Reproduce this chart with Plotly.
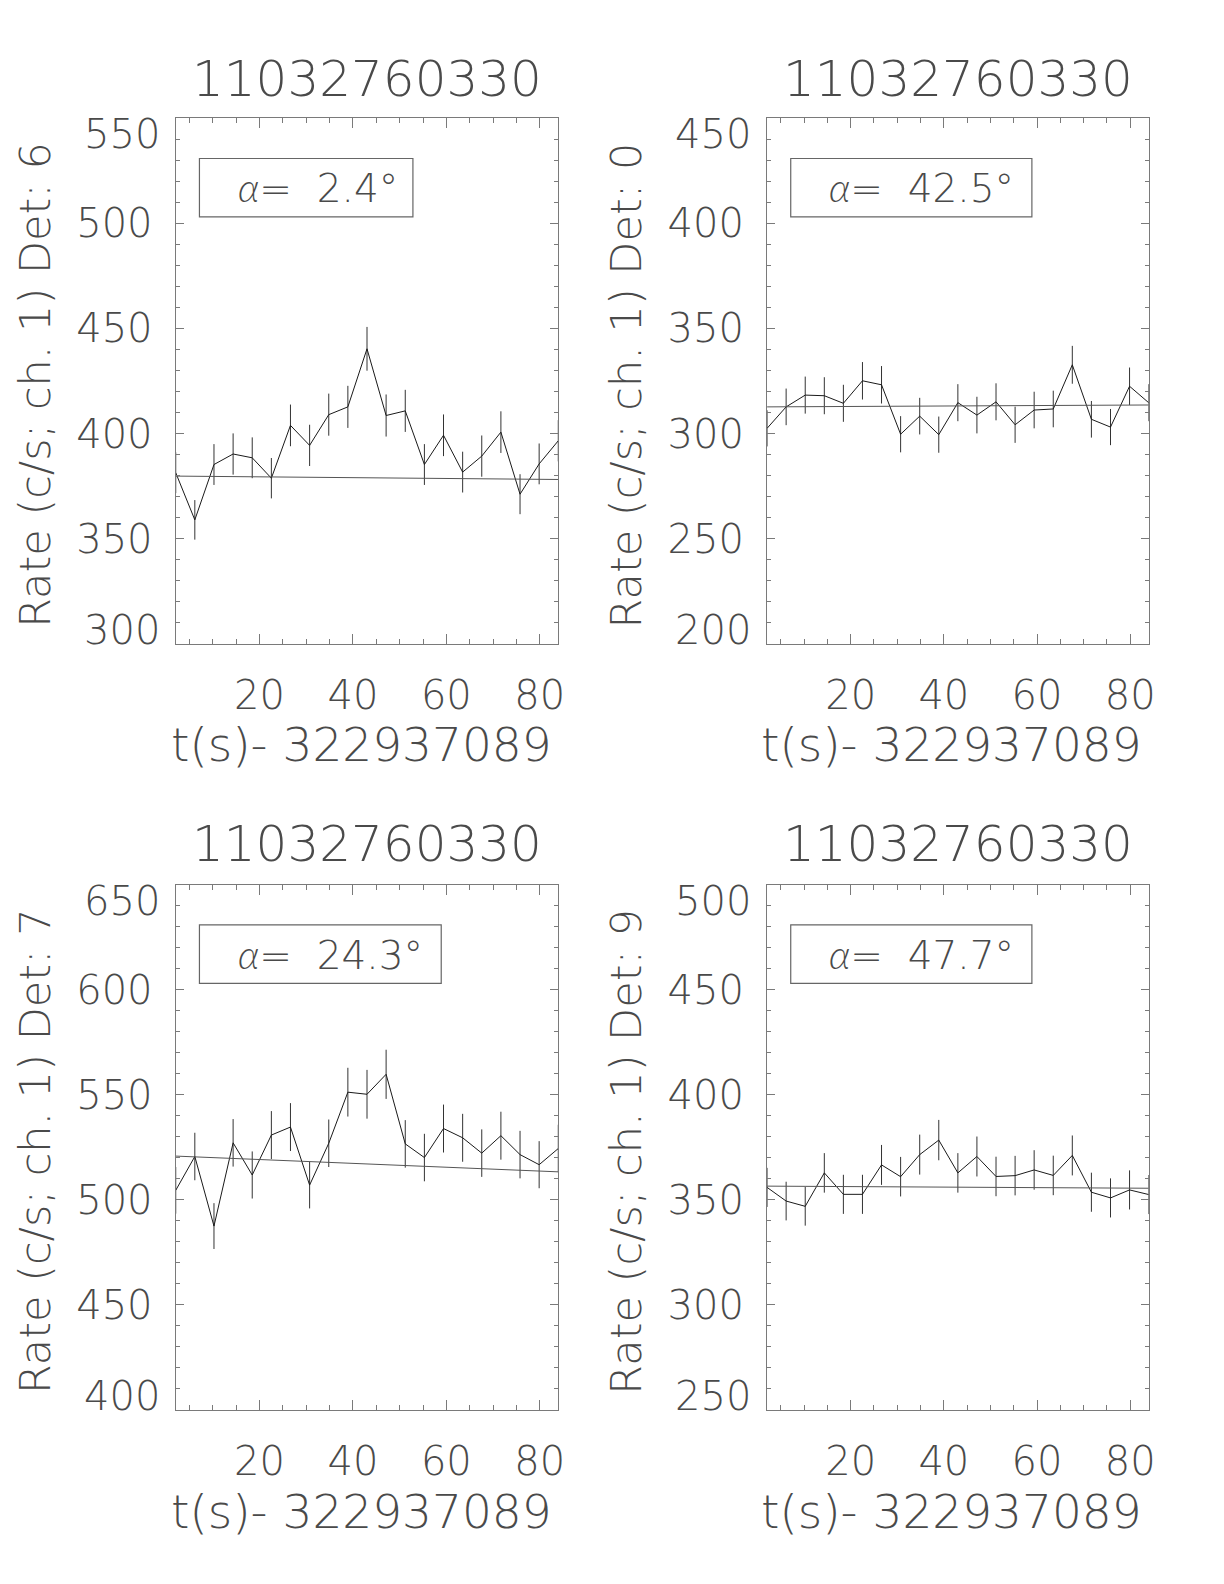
import plotly.graph_objects as go

# ---------------- data ----------------
t_sec = [2.05, 6.14, 10.24, 14.34, 18.43, 22.53, 26.62, 30.72, 34.82, 38.91, 43.01,
         47.10, 51.20, 55.30, 59.39, 63.49, 67.58, 71.68, 75.78, 79.87, 83.97]

rate_det6 = [381.4, 359.0, 385.3, 390.3, 388.5, 378.8, 403.9, 394.4, 409.0, 412.7, 440.3,
             408.6, 410.8, 385.3, 399.2, 381.7, 389.3, 400.7, 371.2, 385.6, 396.6]
err_det6 = [9.7, 9.4, 9.7, 9.8, 9.7, 9.6, 9.9, 9.8, 10.0, 10.0, 10.4,
            10.0, 10.0, 9.7, 9.9, 9.7, 9.8, 9.9, 9.5, 9.7, 9.8]
fit_det6 = [379.8, 378.2]

rate_det0 = [302.5, 312.7, 318.3, 318.0, 314.4, 325.1, 323.2, 299.7, 308.3, 299.5, 314.7,
             308.8, 315.1, 304.2, 311.2, 311.7, 332.7, 306.8, 303.1, 322.5, 314.7]
err_det0 = [8.6, 8.7, 8.8, 8.8, 8.8, 8.9, 8.9, 8.6, 8.7, 8.6, 8.8,
            8.7, 8.8, 8.6, 8.7, 8.7, 9.0, 8.7, 8.6, 8.9, 8.8]
fit_det0 = [312.7, 313.6]

rate_det7 = [504.5, 520.6, 487.5, 527.1, 511.8, 530.8, 534.6, 507.0, 526.9, 551.2, 550.2,
             559.7, 526.6, 520.1, 533.9, 529.5, 522.2, 530.5, 521.5, 516.7, 524.4]
err_det7 = [11.1, 11.3, 10.9, 11.3, 11.2, 11.4, 11.4, 11.1, 11.3, 11.6, 11.6,
            11.7, 11.3, 11.3, 11.4, 11.4, 11.3, 11.4, 11.3, 11.2, 11.3]
fit_det7 = [520.8, 513.3]

rate_det9 = [355.9, 349.4, 346.9, 362.8, 352.6, 352.6, 366.6, 361.0, 371.5, 378.4, 362.8,
             370.6, 361.1, 361.5, 364.2, 361.6, 371.1, 353.6, 350.9, 354.7, 352.5]
err_det9 = [9.3, 9.2, 9.2, 9.4, 9.3, 9.3, 9.5, 9.4, 9.5, 9.6, 9.4,
            9.5, 9.4, 9.4, 9.4, 9.4, 9.5, 9.3, 9.3, 9.3, 9.3]
fit_det9 = [356.5, 355.5]

burst_id = "11032760330"
t_offset = "322937089"
detectors = ["6", "0", "7", "9"]
angles = ["2.4", "42.5", "24.3", "47.7"]
y_ranges = [[300, 550], [200, 450], [400, 650], [250, 500]]
x_ticks = [20, 40, 60, 80]

rates = [rate_det6, rate_det0, rate_det7, rate_det9]
errs = [err_det6, err_det0, err_det7, err_det9]
fits = [fit_det6, fit_det0, fit_det7, fit_det9]

# ---------------- layout geometry (page pixels) ----------------
PAGE_M = 8                      # default body margin of the html page
W, H = 1224 - 2 * PAGE_M, 1584 - 2 * PAGE_M
FONT = "DejaVu Sans"
TXT = "#4a4a4a"
AX = "#7a7a7a"


def fx(px):
    return (px - PAGE_M) / W


def fy(py):
    return 1 - (py - PAGE_M) / H


def font(size):
    return dict(family=FONT, size=size, color=TXT, weight=200)


panels = [
    dict(x0=176.7, x1=561.5, y0=118.0, y1=644.0, ylab_x=35, title_y=79, xt_y=745, box_r=0.62),
    dict(x0=771.5, x1=1155.3, y0=118.0, y1=644.0, ylab_x=630, title_y=79, xt_y=745, box_r=0.694),
    dict(x0=176.7, x1=561.5, y0=884.5, y1=1410.0, ylab_x=35, title_y=844, xt_y=1511, box_r=0.694),
    dict(x0=771.5, x1=1155.3, y0=884.5, y1=1410.0, ylab_x=630, title_y=844, xt_y=1511, box_r=0.694),
]

fig = go.Figure()
annotations = []
shapes = []

for i, p in enumerate(panels):
    n = "" if i == 0 else str(i + 1)
    xa, ya = "x" + n, "y" + n
    ylo, yhi = y_ranges[i]

    fig.add_trace(go.Scatter(
        x=t_sec, y=rates[i], mode="lines", xaxis=xa, yaxis=ya,
        line=dict(color="#1a1a1a", width=1),
        error_y=dict(type="data", array=errs[i], visible=True, width=0,
                     thickness=1, color="#333333"),
        showlegend=False, hoverinfo="skip"))
    fig.add_trace(go.Scatter(
        x=[t_sec[0], t_sec[-1]], y=fits[i], mode="lines", xaxis=xa, yaxis=ya,
        line=dict(color="#555555", width=1), showlegend=False, hoverinfo="skip"))

    axis_common = dict(showgrid=False, zeroline=False, showline=True, linecolor=AX,
                       linewidth=1.3, mirror="allticks", ticks="inside", tickcolor=AX,
                       tickwidth=1, tickfont=font(40))
    fig.layout["xaxis" + n] = dict(
        domain=[fx(p["x0"]), fx(p["x1"])], anchor=ya,
        range=[t_sec[0], t_sec[-1]], tickvals=x_ticks, ticklen=10,
        ticklabelstandoff=16,
        minor=dict(dtick=5, tick0=0, ticks="inside", ticklen=5, tickcolor=AX),
        **axis_common)
    fig.layout["yaxis" + n] = dict(
        domain=[fy(p["y1"]), fy(p["y0"])], anchor=xa,
        range=[ylo, yhi], tickvals=list(range(ylo + 50, yhi, 50)), ticklen=8,
        ticklabelstandoff=14,
        minor=dict(dtick=10, tick0=0, ticks="inside", ticklen=4, tickcolor=AX),
        **axis_common)

    # end tick labels (drawn slightly inside the frame, as in the original)
    for val, shift in ((yhi, -16), (ylo, 14)):
        annotations.append(dict(
            x=0, xref=xa + " domain", y=val, yref=ya, xanchor="right", yanchor="middle",
            xshift=-14, yshift=shift, text=str(val), showarrow=False, font=font(40)))

    # panel title
    annotations.append(dict(
        x=fx((p["x0"] + p["x1"]) / 2), y=fy(p["title_y"]), xref="paper", yref="paper",
        xanchor="center", yanchor="middle", text=burst_id, showarrow=False,
        font=font(50)))
    # x title
    annotations.append(dict(
        x=fx((p["x0"] + p["x1"]) / 2 - 6), y=fy(p["xt_y"]), xref="paper", yref="paper",
        xanchor="center", yanchor="middle", text="t(s)- " + t_offset, showarrow=False,
        font=font(47)))
    # y title
    annotations.append(dict(
        x=fx(p["ylab_x"]), y=fy((p["y0"] + p["y1"]) / 2 + 4), xref="paper", yref="paper",
        xanchor="center", yanchor="middle", textangle=-90,
        text="Rate (c/s; ch. 1) Det: " + detectors[i], showarrow=False,
        font=font(43)))
    # alpha box
    shapes.append(dict(type="rect", xref=xa + " domain", yref=ya + " domain",
                       x0=0.062, x1=p["box_r"], y0=0.812, y1=0.923,
                       line=dict(color="#666666", width=1.2), fillcolor="rgba(0,0,0,0)"))
    annotations.append(dict(
        x=0.158, xref=xa + " domain", y=0.8675, yref=ya + " domain",
        xanchor="left", yanchor="middle", showarrow=False,
        text="<span style=\"font-family:Lato,'DejaVu Sans';font-weight:300\"><i>α</i></span>"
             "=\u00a0\u00a0" + angles[i] + "°",
        font=font(39)))

fig.update_layout(
    width=W, height=H, margin=dict(l=0, r=0, t=0, b=0),
    paper_bgcolor="white", plot_bgcolor="white",
    annotations=annotations, shapes=shapes)

fig.write_html("out.html")
